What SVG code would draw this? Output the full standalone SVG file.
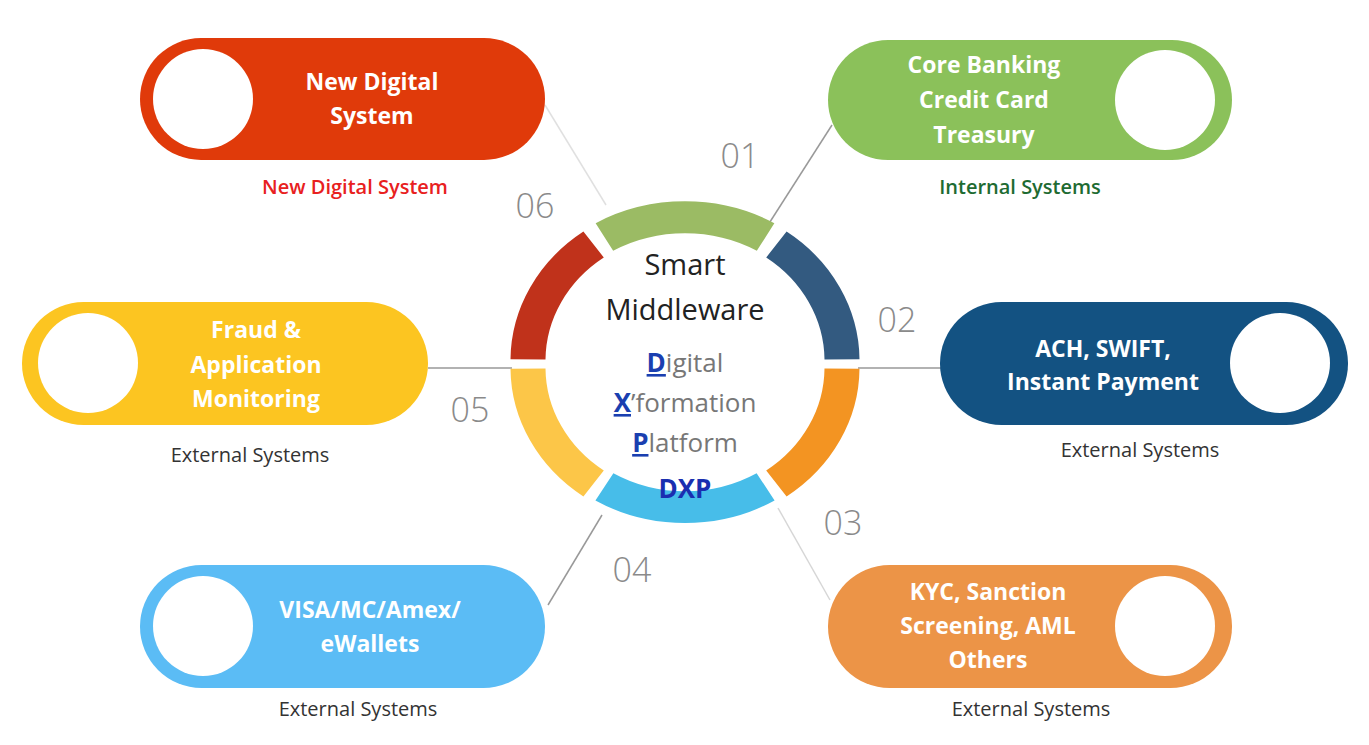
<svg xmlns="http://www.w3.org/2000/svg" width="1369" height="745" viewBox="0 0 1369 745">
<style>
.pt{font-family:"Open Sans","Liberation Sans",sans-serif;font-weight:700;font-size:23px;fill:#fff;text-anchor:middle}
.sub{font-family:"Open Sans","Liberation Sans",sans-serif;font-size:20px;fill:#333;text-anchor:middle}
.num{font-family:"Open Sans","Liberation Sans",sans-serif;font-weight:300;font-size:34px;fill:#8a8a8a;text-anchor:middle}
.ctr{font-family:"Open Sans","Liberation Sans",sans-serif;font-size:26px;fill:#777;text-anchor:middle}
.big{font-family:"Open Sans","Liberation Sans",sans-serif;font-size:29px;fill:#222;text-anchor:middle}
.seg{fill:none;stroke-width:35}
.hole{fill:#fff}
.con{stroke:#999;stroke-width:1.5;fill:none}
</style>
<rect width="1369" height="745" fill="#fff"/>
<g id="connectors">
<line class="con" x1="545" y1="105" x2="606" y2="205" stroke-opacity="0.3"/>
<line class="con" x1="832" y1="125" x2="768" y2="225"/>
<line class="con" x1="858" y1="368" x2="942" y2="368"/>
<line class="con" x1="428" y1="368" x2="512" y2="368"/>
<line class="con" x1="548" y1="605" x2="602" y2="515"/>
<line class="con" x1="830" y1="600" x2="778" y2="508" stroke-opacity="0.4"/>
</g>
<g id="ring" transform="translate(685,364) scale(1,0.91)">
<path class="seg" stroke="#9bbb64" stroke-width="30" d="M -80.6 -139.6 A 161 161 0 0 1 80.6 -139.6"/>
<path class="seg" stroke="#335a80" d="M 91.4 -131.3 A 157 157 0 0 1 157 -5"/>
<path class="seg" stroke="#f39422" d="M 157 5 A 157 157 0 0 1 91.4 131.3"/>
<path class="seg" stroke="#47bde9" stroke-width="30" d="M 80.6 135 A 157 157 0 0 1 -80.6 135"/>
<path class="seg" stroke="#fcc648" d="M -91.4 131.3 A 157 157 0 0 1 -157 5"/>
<path class="seg" stroke="#c0321b" d="M -157 -5 A 157 157 0 0 1 -91.4 -131.3"/>
</g>
<g id="center">
<text class="big" x="685" y="275">Smart</text>
<text class="big" x="685" y="320">Middleware</text>
<text class="ctr" x="685" y="372"><tspan fill="#1a3fb0" font-weight="700" text-decoration="underline">D</tspan>igital</text>
<text class="ctr" x="685" y="412"><tspan fill="#1a3fb0" font-weight="700" text-decoration="underline">X</tspan>’formation</text>
<text class="ctr" x="685" y="452"><tspan fill="#1a3fb0" font-weight="700" text-decoration="underline">P</tspan>latform</text>
<text class="ctr" x="685" y="498" fill="#1a2fb0" font-weight="700" font-size="30" style="fill:#1a2fb0">DXP</text>
</g>
<g id="nums">
<text class="num" x="740" y="168">01</text>
<text class="num" x="897" y="332">02</text>
<text class="num" x="843" y="535">03</text>
<text class="num" x="632" y="582">04</text>
<text class="num" x="470" y="422">05</text>
<text class="num" x="535" y="218">06</text>
</g>
<g id="n06">
<rect x="140" y="38" width="405" height="122" rx="61" fill="#e03a0a"/>
<circle class="hole" cx="203" cy="99" r="50"/>
<text class="pt" x="372" y="90">New Digital</text>
<text class="pt" x="372" y="124">System</text>
<text class="sub" x="355" y="194" style="fill:#e82020;font-weight:600">New Digital System</text>
</g>
<g id="n01">
<rect x="828" y="40" width="404" height="120" rx="60" fill="#8bc15a"/>
<circle class="hole" cx="1165" cy="100" r="50"/>
<text class="pt" x="984" y="73">Core Banking</text>
<text class="pt" x="984" y="108">Credit Card</text>
<text class="pt" x="984" y="143">Treasury</text>
<text class="sub" x="1020" y="194" style="fill:#1e6b32;font-weight:600">Internal Systems</text>
</g>
<g id="n02">
<rect x="940" y="302" width="408" height="123" rx="61.5" fill="#135282"/>
<circle class="hole" cx="1280" cy="363" r="50"/>
<text class="pt" x="1103" y="357">ACH, SWIFT,</text>
<text class="pt" x="1103" y="390">Instant Payment</text>
<text class="sub" x="1140" y="457">External Systems</text>
</g>
<g id="n05">
<rect x="22" y="302" width="406" height="123" rx="61.5" fill="#fcc521"/>
<circle class="hole" cx="88" cy="363" r="50"/>
<text class="pt" x="256" y="338">Fraud &amp;</text>
<text class="pt" x="256" y="373">Application</text>
<text class="pt" x="256" y="407">Monitoring</text>
<text class="sub" x="250" y="462">External Systems</text>
</g>
<g id="n04">
<rect x="140" y="565" width="405" height="123" rx="61.5" fill="#5bbcf5"/>
<circle class="hole" cx="203" cy="626" r="50"/>
<text class="pt" x="370" y="618">VISA/MC/Amex/</text>
<text class="pt" x="370" y="652">eWallets</text>
<text class="sub" x="358" y="716">External Systems</text>
</g>
<g id="n03">
<rect x="828" y="565" width="404" height="123" rx="61.5" fill="#ec9447"/>
<circle class="hole" cx="1165" cy="626" r="50"/>
<text class="pt" x="988" y="600">KYC, Sanction</text>
<text class="pt" x="988" y="634">Screening, AML</text>
<text class="pt" x="988" y="668">Others</text>
<text class="sub" x="1031" y="716">External Systems</text>
</g>
</svg>
